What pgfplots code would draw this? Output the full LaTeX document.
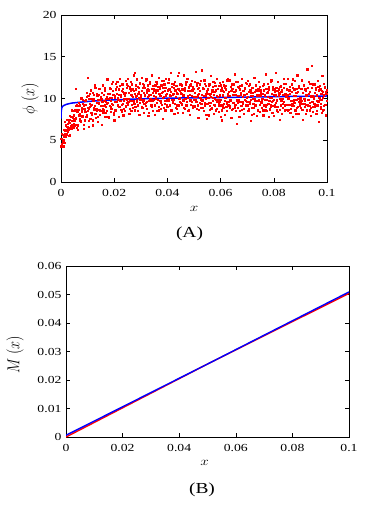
\documentclass[border=0pt]{standalone}
\usepackage{fontspec}
\setmainfont{Liberation Serif}[FakeStretch=1.27]
\usepackage{graphicx}
\usepackage{pgfplots}
\pgfplotsset{compat=1.18}
\pgfplotsset{
  mstyle/.style={
    scale only axis,
    axis line style={line width=0.9pt},
    tick align=inside,
    major tick length=4pt,
    every tick/.style={line width=0.6pt, black},
    xmin=0, xmax=0.1,
    xtick={0,0.02,0.04,0.06,0.08,0.1},
    scaled x ticks=false, scaled y ticks=false,
    /pgf/number format/assume math mode=true,
    /pgf/number format/fixed,
    /pgf/number format/precision=2,
    tick label style={font=\fontsize{10.8}{12}\selectfont},
    xticklabel style={yshift=-4pt},
    yticklabel style={xshift=-1pt},
  },
  dots/.style={only marks, mark=square*, mark size=0.62pt, color=red, mark options={draw=none, fill=red}},
}
\begin{document}
\begin{tikzpicture}
\useasboundingbox (0pt,0pt) rectangle (382pt,509pt);
\begin{axis}[mstyle,
  at={(61pt,327pt)}, anchor=south west,
  width=266pt, height=167pt,
  ymin=0, ymax=20, ytick={0,5,10,15,20},
  xlabel={\scalebox{1.27}[1]{$x$}},
  xlabel style={at={(axis description cs:0.5,-0.162)}, anchor=center, font=\fontsize{12}{13}\selectfont},
  ylabel={\scalebox{1}[1.2]{$\phi\;(x)$}},
  ylabel style={at={(axis description cs:-0.1165,0.5)}, anchor=center, font=\fontsize{14}{15}\selectfont},
]
\addplot[dots] coordinates {
(0.0001,5.2)(0.0003,4.5)(0.0005,5.7)(0.0007,4.9)(0.0009,5.4)(0.0011,5.0)(0.0013,6.1)(0.0015,5.8)(0.0017,5.4)(0.0019,6.8)(0.0021,5.8)(0.0023,6.6)(0.0025,7.0)(0.0027,6.3)(0.0029,5.5)(0.0031,7.5)(0.0033,7.1)(0.0035,6.5)(0.0037,7.8)(0.0039,6.8)(0.0041,7.8)(0.0043,6.7)(0.0045,8.5)(0.0047,7.0)(0.0049,7.6)
(0.0051,7.4)(0.0053,8.7)(0.0055,7.7)(0.0057,9.1)(0.0059,6.9)(0.0061,8.4)(0.0063,6.8)(0.0065,8.7)(0.0067,9.1)(0.0069,7.6)(0.0071,8.2)(0.0073,10.0)(0.0075,7.2)(0.0077,8.9)(0.0079,8.4)(0.0081,7.9)(0.0083,9.4)(0.0085,6.9)(0.0087,8.8)(0.0089,9.7)(0.0091,8.4)(0.0093,9.3)(0.0095,7.8)(0.0097,10.2)(0.0099,8.5)
(0.0101,12.5)(0.0103,8.8)(0.0105,6.6)(0.0107,9.4)(0.0109,10.6)(0.0111,8.3)(0.0113,9.1)(0.0115,8.1)(0.0117,10.0)(0.0119,7.4)(0.0121,9.8)(0.0123,10.5)(0.0125,8.7)(0.0127,9.1)(0.0129,11.3)(0.0131,8.2)(0.0133,9.5)(0.0135,8.6)(0.0137,9.9)(0.0139,7.8)(0.0141,10.5)(0.0143,9.4)(0.0145,8.6)(0.0147,9.9)(0.0149,9.1)
(0.0151,8.5)(0.0153,10.7)(0.0155,9.6)(0.0157,8.8)(0.0159,8.3)(0.0161,10.5)(0.0163,11.3)(0.0165,9.2)(0.0167,9.6)(0.0169,8.3)(0.0171,10.2)(0.0173,9.4)(0.0175,10.6)(0.0177,7.8)(0.0179,10.0)(0.0181,10.6)(0.0183,9.1)(0.0185,11.2)(0.0187,9.7)(0.0189,8.8)(0.0191,10.1)(0.0193,12.0)(0.0195,9.3)(0.0197,10.5)(0.0199,8.3)
(0.0201,10.1)(0.0203,9.6)(0.0205,11.1)(0.0207,8.7)(0.0209,10.6)(0.0211,12.0)(0.0213,9.2)(0.0215,9.9)(0.0217,10.5)(0.0219,9.0)(0.0221,11.5)(0.0223,9.7)(0.0225,10.2)(0.0227,8.4)(0.0229,10.9)(0.0231,9.4)(0.0233,11.2)(0.0235,9.8)(0.0237,8.8)(0.0239,10.4)(0.0241,10.7)(0.0243,9.1)(0.0245,10.0)(0.0247,11.7)(0.0249,9.5)
(0.0251,11.5)(0.0253,9.6)(0.0255,10.0)(0.0257,11.2)(0.0259,8.8)(0.0261,10.5)(0.0263,10.9)(0.0265,9.3)(0.0267,11.7)(0.0269,10.2)(0.0271,9.7)(0.0273,12.8)(0.0275,9.4)(0.0277,10.6)(0.0279,9.0)(0.0281,11.1)(0.0283,10.3)(0.0285,9.9)(0.0287,11.4)(0.0289,8.5)(0.0291,10.8)(0.0293,10.1)(0.0295,11.9)(0.0297,9.5)(0.0299,10.4)
(0.0301,10.1)(0.0303,10.9)(0.0305,8.9)(0.0307,11.3)(0.0309,9.8)(0.0311,11.6)(0.0313,9.4)(0.0315,10.4)(0.0317,12.2)(0.0319,9.1)(0.0321,10.7)(0.0323,9.6)(0.0325,11.1)(0.0327,10.2)(0.0329,8.3)(0.0331,11.0)(0.0333,11.8)(0.0335,10.0)(0.0337,10.5)(0.0339,9.2)(0.0341,11.2)(0.0343,9.7)(0.0345,11.5)(0.0347,9.9)(0.0349,10.3)
(0.0351,11.0)(0.0353,9.2)(0.0355,10.7)(0.0357,10.2)(0.0359,11.8)(0.0361,9.5)(0.0363,9.9)(0.0365,11.4)(0.0367,8.6)(0.0369,10.6)(0.0371,11.2)(0.0373,9.7)(0.0375,10.3)(0.0377,11.6)(0.0379,9.3)(0.0381,10.8)(0.0383,10.1)(0.0385,12.1)(0.0387,8.9)(0.0389,10.9)(0.0391,9.4)(0.0393,10.4)(0.0395,11.3)(0.0397,9.8)(0.0399,9.0)
(0.0401,9.7)(0.0403,11.9)(0.0405,10.0)(0.0407,11.1)(0.0409,9.1)(0.0411,10.3)(0.0413,10.8)(0.0415,8.5)(0.0417,11.4)(0.0419,9.6)(0.0421,10.5)(0.0423,11.7)(0.0425,9.9)(0.0427,9.4)(0.0429,11.0)(0.0431,10.2)(0.0433,11.5)(0.0435,8.8)(0.0437,10.6)(0.0439,11.2)(0.0441,9.2)(0.0443,13.1)(0.0445,10.1)(0.0447,10.9)(0.0449,9.5)
(0.0451,10.7)(0.0453,9.4)(0.0455,11.6)(0.0457,9.8)(0.0459,10.4)(0.0461,8.9)(0.0463,11.1)(0.0465,11.3)(0.0467,10.0)(0.0469,9.2)(0.0471,12.0)(0.0473,9.6)(0.0475,10.9)(0.0477,10.1)(0.0479,11.4)(0.0481,8.7)(0.0483,10.5)(0.0485,9.8)(0.0487,11.7)(0.0489,9.3)(0.0491,10.3)(0.0493,11.0)(0.0495,9.1)(0.0497,11.2)(0.0499,10.2)
(0.0501,9.0)(0.0503,10.7)(0.0505,13.2)(0.0507,9.9)(0.0509,11.6)(0.0511,9.6)(0.0513,9.2)(0.0515,10.4)(0.0517,11.3)(0.0519,8.7)(0.0521,10.9)(0.0523,10.1)(0.0525,12.1)(0.0527,9.4)(0.0529,10.5)(0.0531,9.8)(0.0533,8.9)(0.0535,11.2)(0.0537,10.3)(0.0539,9.5)(0.0541,11.8)(0.0543,10.0)(0.0545,10.6)(0.0547,7.6)(0.0549,10.8)
(0.0551,11.1)(0.0553,10.1)(0.0555,9.5)(0.0557,11.7)(0.0559,9.1)(0.0561,10.6)(0.0563,10.2)(0.0565,8.8)(0.0567,10.8)(0.0569,11.4)(0.0571,9.7)(0.0573,9.3)(0.0575,10.5)(0.0577,11.9)(0.0579,10.0)(0.0581,11.0)(0.0583,8.6)(0.0585,10.3)(0.0587,9.6)(0.0589,11.2)(0.0591,9.9)(0.0593,11.5)(0.0595,9.2)(0.0597,10.4)(0.0599,7.8)
(0.0601,9.9)(0.0603,11.3)(0.0605,8.6)(0.0607,10.9)(0.0609,10.4)(0.0611,9.4)(0.0613,11.6)(0.0615,9.7)(0.0617,10.1)(0.0619,11.1)(0.0621,9.0)(0.0623,12.2)(0.0625,9.6)(0.0627,10.6)(0.0629,9.2)(0.0631,10.8)(0.0633,10.3)(0.0635,8.9)(0.0637,11.4)(0.0639,9.8)(0.0641,11.0)(0.0643,8.7)(0.0645,10.5)(0.0647,9.5)(0.0649,11.7)
(0.0651,10.8)(0.0653,8.9)(0.0655,10.5)(0.0657,9.3)(0.0659,12.0)(0.0661,7.0)(0.0663,9.5)(0.0665,11.4)(0.0667,9.8)(0.0669,10.3)(0.0671,8.5)(0.0673,11.1)(0.0675,10.7)(0.0677,9.1)(0.0679,11.6)(0.0681,9.6)(0.0683,10.2)(0.0685,10.9)(0.0687,8.8)(0.0689,10.5)(0.0691,11.3)(0.0693,9.7)(0.0695,9.3)(0.0697,11.8)(0.0699,10.1)
(0.0701,9.2)(0.0703,10.2)(0.0705,11.5)(0.0707,8.8)(0.0709,9.6)(0.0711,11.0)(0.0713,9.9)(0.0715,10.7)(0.0717,8.1)(0.0719,11.3)(0.0721,10.3)(0.0723,9.4)(0.0725,8.9)(0.0727,10.8)(0.0729,10.0)(0.0731,11.6)(0.0733,9.1)(0.0735,9.7)(0.0737,10.5)(0.0739,8.7)(0.0741,11.2)(0.0743,9.8)(0.0745,10.9)(0.0747,8.4)(0.0749,10.4)
(0.0751,11.0)(0.0753,9.5)(0.0755,9.8)(0.0757,10.6)(0.0759,8.6)(0.0761,11.7)(0.0763,9.2)(0.0765,10.3)(0.0767,9.9)(0.0769,9.0)(0.0771,11.2)(0.0773,8.5)(0.0775,10.7)(0.0777,10.2)(0.0779,9.4)(0.0781,11.1)(0.0783,9.7)(0.0785,8.8)(0.0787,12.0)(0.0789,9.3)(0.0791,10.1)(0.0793,9.6)(0.0795,11.4)(0.0797,9.1)(0.0799,10.5)
(0.0801,9.9)(0.0803,10.8)(0.0805,9.0)(0.0807,9.5)(0.0809,11.3)(0.0811,9.7)(0.0813,10.9)(0.0815,8.4)(0.0817,10.4)(0.0819,10.7)(0.0821,8.7)(0.0823,10.0)(0.0825,11.5)(0.0827,9.2)(0.0829,9.8)(0.0831,11.0)(0.0833,8.9)(0.0835,10.5)(0.0837,9.6)(0.0839,11.8)(0.0841,8.6)(0.0843,10.6)(0.0845,9.3)(0.0847,10.2)(0.0849,11.1)
(0.0851,10.5)(0.0853,8.5)(0.0855,10.9)(0.0857,10.1)(0.0859,9.3)(0.0861,11.4)(0.0863,8.8)(0.0865,9.7)(0.0867,10.8)(0.0869,9.4)(0.0871,12.3)(0.0873,9.1)(0.0875,9.8)(0.0877,11.1)(0.0879,9.5)(0.0881,10.3)(0.0883,8.2)(0.0885,10.7)(0.0887,11.2)(0.0889,9.0)(0.0891,10.0)(0.0893,9.6)(0.0895,11.3)(0.0897,9.2)(0.0899,9.8)
(0.0901,9.6)(0.0903,11.2)(0.0905,9.4)(0.0907,8.7)(0.0909,10.7)(0.0911,10.0)(0.0913,11.6)(0.0915,9.0)(0.0917,9.8)(0.0919,10.9)(0.0921,9.3)(0.0923,10.4)(0.0925,8.6)(0.0927,11.3)(0.0929,9.9)(0.0931,10.6)(0.0933,9.1)(0.0935,9.5)(0.0937,11.8)(0.0939,8.9)(0.0941,10.2)(0.0943,13.9)(0.0945,8.4)(0.0947,10.3)(0.0949,9.4)
(0.0951,10.2)(0.0953,9.0)(0.0955,10.7)(0.0957,11.1)(0.0959,8.2)(0.0961,10.5)(0.0963,9.7)(0.0965,9.2)(0.0967,11.4)(0.0969,9.6)(0.0971,10.1)(0.0973,11.5)(0.0975,8.8)(0.0977,9.4)(0.0979,10.9)(0.0981,9.9)(0.0983,8.5)(0.0985,10.8)(0.0987,10.4)(0.0989,9.1)(0.0991,11.3)(0.0993,9.3)(0.0995,8.0)(0.0997,10.6)(0.0999,11.0)
};
\addplot[dots] coordinates {
(0.0000,4.3)(0.0002,4.6)(0.0004,5.8)(0.0006,5.1)(0.0008,4.3)(0.0010,6.3)(0.0012,4.7)(0.0014,7.2)(0.0016,5.6)(0.0018,6.2)(0.0020,5.7)(0.0022,7.5)(0.0024,6.5)(0.0026,6.0)(0.0028,7.2)(0.0030,7.2)(0.0032,5.6)(0.0034,7.9)(0.0036,6.7)(0.0038,6.4)(0.0040,8.6)(0.0042,7.3)(0.0044,7.7)(0.0046,6.5)(0.0048,8.0)
(0.0050,6.8)(0.0052,8.5)(0.0054,7.6)(0.0056,11.2)(0.0058,6.5)(0.0060,9.2)(0.0062,8.5)(0.0064,6.3)(0.0066,9.5)(0.0068,8.0)(0.0070,9.2)(0.0072,7.3)(0.0074,7.9)(0.0076,10.1)(0.0078,8.6)(0.0080,7.8)(0.0082,9.9)(0.0084,6.4)(0.0086,9.2)(0.0088,8.6)(0.0090,7.4)(0.0092,9.8)(0.0094,8.4)(0.0096,10.7)(0.0098,8.1)
(0.0100,8.9)(0.0102,10.3)(0.0104,7.3)(0.0106,10.0)(0.0108,9.0)(0.0110,7.6)(0.0112,11.0)(0.0114,8.3)(0.0116,9.3)(0.0118,6.8)(0.0120,10.7)(0.0122,8.9)(0.0124,10.0)(0.0126,8.2)(0.0128,11.6)(0.0130,7.7)(0.0132,8.8)(0.0134,10.6)(0.0136,10.3)(0.0138,7.2)(0.0140,9.5)(0.0142,8.7)(0.0144,11.2)(0.0146,8.1)(0.0148,10.0)
(0.0150,10.2)(0.0152,6.9)(0.0154,10.0)(0.0156,9.1)(0.0158,11.6)(0.0160,8.6)(0.0162,9.7)(0.0164,11.0)(0.0166,7.8)(0.0168,9.0)(0.0170,10.0)(0.0172,8.5)(0.0174,12.3)(0.0176,9.5)(0.0178,10.6)(0.0180,7.7)(0.0182,11.3)(0.0184,10.1)(0.0186,8.4)(0.0188,9.0)(0.0190,11.8)(0.0192,9.4)(0.0194,10.9)(0.0196,10.5)(0.0198,8.1)
(0.0200,7.4)(0.0202,10.3)(0.0204,8.6)(0.0206,11.8)(0.0208,9.6)(0.0210,11.4)(0.0212,9.2)(0.0214,10.1)(0.0216,7.8)(0.0218,11.1)(0.0220,9.7)(0.0222,12.4)(0.0224,10.4)(0.0226,8.7)(0.0228,9.3)(0.0230,11.7)(0.0232,10.8)(0.0234,8.0)(0.0236,10.0)(0.0238,10.6)(0.0240,8.5)(0.0242,12.1)(0.0244,9.0)(0.0246,9.9)(0.0248,11.3)
(0.0250,12.4)(0.0252,9.3)(0.0254,10.7)(0.0256,8.2)(0.0258,11.4)(0.0260,9.7)(0.0262,12.0)(0.0264,8.5)(0.0266,10.4)(0.0268,11.1)(0.0270,8.9)(0.0272,10.9)(0.0274,9.5)(0.0276,13.1)(0.0278,8.6)(0.0280,11.6)(0.0282,10.2)(0.0284,9.6)(0.0286,12.3)(0.0288,9.2)(0.0290,10.6)(0.0292,11.3)(0.0294,8.1)(0.0296,11.8)(0.0298,9.9)
(0.0300,10.2)(0.0302,12.5)(0.0304,9.0)(0.0306,9.6)(0.0308,11.8)(0.0310,10.7)(0.0312,8.3)(0.0314,11.3)(0.0316,10.3)(0.0318,9.5)(0.0320,12.3)(0.0322,8.8)(0.0324,11.0)(0.0326,11.6)(0.0328,7.9)(0.0330,10.4)(0.0332,9.7)(0.0334,12.0)(0.0336,9.3)(0.0338,10.0)(0.0340,12.8)(0.0342,9.0)(0.0344,10.7)(0.0346,8.5)(0.0348,11.1)
(0.0350,10.9)(0.0352,8.1)(0.0354,11.6)(0.0356,10.0)(0.0358,12.0)(0.0360,8.5)(0.0362,11.0)(0.0364,9.9)(0.0366,9.0)(0.0368,12.5)(0.0370,10.3)(0.0372,11.4)(0.0374,8.8)(0.0376,9.5)(0.0378,10.7)(0.0380,12.1)(0.0382,7.6)(0.0384,11.3)(0.0386,10.2)(0.0388,11.7)(0.0390,9.7)(0.0392,8.6)(0.0394,12.4)(0.0396,10.6)(0.0398,9.2)
(0.0400,11.0)(0.0402,9.0)(0.0404,12.3)(0.0406,9.7)(0.0408,10.4)(0.0410,9.3)(0.0412,13.1)(0.0414,8.6)(0.0416,9.9)(0.0418,11.8)(0.0420,9.5)(0.0422,10.6)(0.0424,11.3)(0.0426,8.2)(0.0428,12.0)(0.0430,8.9)(0.0432,10.2)(0.0434,10.7)(0.0436,9.2)(0.0438,12.7)(0.0440,8.3)(0.0442,11.1)(0.0444,10.0)(0.0446,9.6)(0.0448,11.7)
(0.0450,11.8)(0.0452,10.6)(0.0454,9.3)(0.0456,11.1)(0.0458,8.3)(0.0460,12.8)(0.0462,9.7)(0.0464,11.0)(0.0466,8.8)(0.0468,11.7)(0.0470,10.0)(0.0472,9.2)(0.0474,12.4)(0.0476,10.3)(0.0478,8.5)(0.0480,11.3)(0.0482,10.9)(0.0484,8.1)(0.0486,11.6)(0.0488,9.9)(0.0490,12.1)(0.0492,9.6)(0.0494,8.9)(0.0496,11.4)(0.0498,10.2)
(0.0500,9.9)(0.0502,9.1)(0.0504,12.0)(0.0506,9.6)(0.0508,10.2)(0.0510,8.8)(0.0512,11.9)(0.0514,11.2)(0.0516,7.7)(0.0518,10.6)(0.0520,9.5)(0.0522,11.7)(0.0524,9.9)(0.0526,8.9)(0.0528,13.4)(0.0530,9.4)(0.0532,11.3)(0.0534,9.8)(0.0536,8.5)(0.0538,12.2)(0.0540,9.2)(0.0542,10.3)(0.0544,11.5)(0.0546,8.1)(0.0548,10.9)
(0.0550,9.4)(0.0552,10.6)(0.0554,8.0)(0.0556,11.6)(0.0558,10.5)(0.0560,8.7)(0.0562,12.7)(0.0564,9.5)(0.0566,8.9)(0.0568,11.0)(0.0570,10.1)(0.0572,12.0)(0.0574,8.2)(0.0576,10.8)(0.0578,9.2)(0.0580,11.5)(0.0582,9.9)(0.0584,8.8)(0.0586,12.4)(0.0588,10.2)(0.0590,11.2)(0.0592,8.4)(0.0594,9.4)(0.0596,11.9)(0.0598,9.6)
(0.0600,11.6)(0.0602,11.0)(0.0604,7.4)(0.0606,9.2)(0.0608,12.0)(0.0610,8.9)(0.0612,10.8)(0.0614,11.3)(0.0616,8.1)(0.0618,10.1)(0.0620,11.5)(0.0622,9.4)(0.0624,8.5)(0.0626,12.3)(0.0628,10.3)(0.0630,9.6)(0.0632,12.2)(0.0634,9.1)(0.0636,9.8)(0.0638,10.9)(0.0640,7.7)(0.0642,11.7)(0.0644,11.2)(0.0646,8.8)(0.0648,10.5)
(0.0650,10.8)(0.0652,9.2)(0.0654,12.9)(0.0656,8.5)(0.0658,11.0)(0.0660,9.8)(0.0662,12.0)(0.0664,8.9)(0.0666,10.3)(0.0668,11.3)(0.0670,7.8)(0.0672,9.6)(0.0674,11.5)(0.0676,10.5)(0.0678,8.7)(0.0680,12.4)(0.0682,9.4)(0.0684,10.2)(0.0686,10.9)(0.0688,8.2)(0.0690,11.2)(0.0692,9.9)(0.0694,11.9)(0.0696,9.1)(0.0698,10.6)
(0.0700,9.6)(0.0702,12.1)(0.0704,8.5)(0.0706,10.8)(0.0708,9.4)(0.0710,11.7)(0.0712,10.3)(0.0714,7.3)(0.0716,11.3)(0.0718,8.9)(0.0720,10.0)(0.0722,10.7)(0.0724,8.2)(0.0726,12.5)(0.0728,9.7)(0.0730,9.2)(0.0732,11.5)(0.0734,11.0)(0.0736,7.9)(0.0738,10.4)(0.0740,8.6)(0.0742,12.0)(0.0744,9.9)(0.0746,11.4)(0.0748,9.3)
(0.0750,9.6)(0.0752,10.7)(0.0754,8.9)(0.0756,10.0)(0.0758,11.5)(0.0760,8.0)(0.0762,11.0)(0.0764,9.2)(0.0766,10.4)(0.0768,8.6)(0.0770,12.9)(0.0772,9.9)(0.0774,9.3)(0.0776,11.8)(0.0778,10.8)(0.0780,7.8)(0.0782,11.4)(0.0784,8.7)(0.0786,10.1)(0.0788,9.0)(0.0790,12.2)(0.0792,10.6)(0.0794,8.3)(0.0796,9.7)(0.0798,11.1)
(0.0800,7.9)(0.0802,11.0)(0.0804,9.3)(0.0806,13.1)(0.0808,10.4)(0.0810,8.6)(0.0812,9.9)(0.0814,12.0)(0.0816,9.0)(0.0818,11.1)(0.0820,10.6)(0.0822,7.5)(0.0824,11.4)(0.0826,9.7)(0.0828,10.8)(0.0830,8.2)(0.0832,10.0)(0.0834,9.4)(0.0836,12.4)(0.0838,11.3)(0.0840,8.5)(0.0842,9.2)(0.0844,10.3)(0.0846,11.8)(0.0848,8.7)
(0.0850,9.3)(0.0852,12.4)(0.0854,10.0)(0.0856,8.7)(0.0858,11.0)(0.0860,10.6)(0.0862,8.3)(0.0864,9.7)(0.0866,11.7)(0.0868,9.2)(0.0870,11.3)(0.0872,7.8)(0.0874,10.3)(0.0876,9.6)(0.0878,12.1)(0.0880,8.6)(0.0882,10.7)(0.0884,9.9)(0.0886,8.9)(0.0888,12.8)(0.0890,10.8)(0.0892,8.2)(0.0894,11.5)(0.0896,9.4)(0.0898,10.1)
(0.0900,10.1)(0.0902,8.9)(0.0904,12.2)(0.0906,9.7)(0.0908,10.7)(0.0910,7.5)(0.0912,11.5)(0.0914,9.4)(0.0916,10.0)(0.0918,11.1)(0.0920,8.2)(0.0922,10.4)(0.0924,8.7)(0.0926,13.5)(0.0928,9.2)(0.0930,9.9)(0.0932,12.0)(0.0934,8.6)(0.0936,10.8)(0.0938,10.3)(0.0940,7.9)(0.0942,11.3)(0.0944,9.6)(0.0946,9.0)(0.0948,11.7)
(0.0950,10.0)(0.0952,9.4)(0.0954,11.7)(0.0956,9.2)(0.0958,11.3)(0.0960,8.5)(0.0962,10.3)(0.0964,9.6)(0.0966,12.1)(0.0968,11.0)(0.0970,7.2)(0.0972,9.9)(0.0974,11.1)(0.0976,9.0)(0.0978,10.6)(0.0980,8.3)(0.0982,12.7)(0.0984,10.1)(0.0986,8.7)(0.0988,11.8)(0.0990,9.3)(0.0992,11.4)(0.0994,8.0)(0.0996,10.8)(0.0998,9.7)
};
\addplot[color=blue, line width=1.5pt] coordinates {
(0,7.6)(0.0001,8.5)(0.0003,8.9)(0.0006,9.05)(0.001,9.15)(0.002,9.3)(0.004,9.45)(0.007,9.55)(0.01,9.64)(0.015,9.75)(0.02,9.84)(0.03,9.96)(0.04,10.04)(0.05,10.08)(0.06,10.12)(0.07,10.17)(0.08,10.22)(0.09,10.26)(0.1,10.3)
};
\end{axis}
\node[font=\fontsize{15.3}{16}\selectfont] at (189.5pt,275pt) {(A)};
\begin{axis}[mstyle,
  at={(66pt,72pt)}, anchor=south west,
  width=283pt, height=171pt,
  ymin=0, ymax=0.06, ytick={0,0.01,0.02,0.03,0.04,0.05,0.06},
  xlabel={\scalebox{1.27}[1]{$x$}},
  xlabel style={at={(axis description cs:0.49,-0.152)}, anchor=center, font=\fontsize{12}{13}\selectfont},
  ylabel={\scalebox{1}[1.2]{$M\;(x)$}},
  ylabel style={at={(axis description cs:-0.18,0.48)}, anchor=center, font=\fontsize{14}{15}\selectfont},
]
\addplot[color=red, line width=1.4pt] coordinates {(0,0)(0.05,0.0256)(0.1,0.0504)};
\addplot[color=blue, line width=1.4pt] coordinates {(0,0.0006)(0.05,0.0256)(0.1,0.0509)};
\end{axis}
\node[font=\fontsize{15.3}{16}\selectfont] at (202pt,19pt) {(B)};
\end{tikzpicture}
\end{document}
